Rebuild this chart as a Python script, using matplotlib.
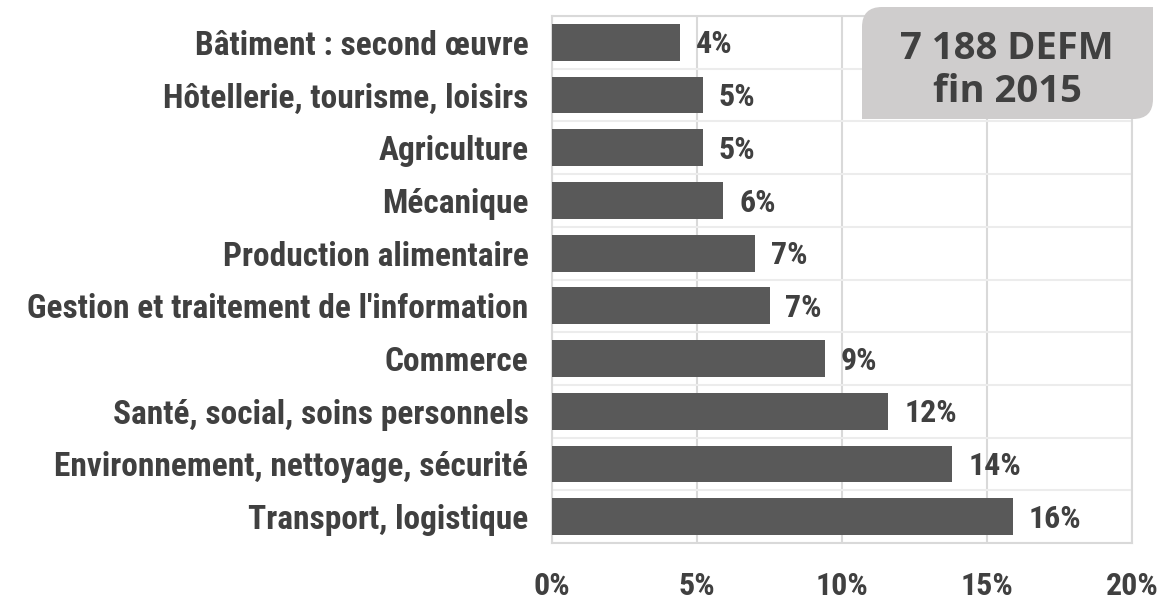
import matplotlib.pyplot as plt
from matplotlib.patches import PathPatch
from matplotlib.path import Path
from matplotlib.transforms import Affine2D
import numpy as np

categories = ["Transport, logistique", "Environnement, nettoyage, sécurité",
              "Santé, social, soins personnels", "Commerce",
              "Gestion et traitement de l'information", "Production alimentaire",
              "Mécanique", "Agriculture", "Hôtellerie, tourisme, loisirs",
              "Bâtiment : second œuvre"]
values = [15.9, 13.8, 11.6, 9.4, 7.5, 7.0, 5.9, 5.2, 5.2, 4.4]
labels = ["16%", "14%", "12%", "9%", "7%", "7%", "6%", "5%", "5%", "4%"]
xticks = [0, 5, 10, 15, 20]
box_lines = ["7 188 DEFM", "fin 2015"]

narrow = ['Roboto Condensed', 'Roboto', 'DejaVu Sans']
txt = '#404040'
grid = '#d9d9d9'
W, H = 1161, 599

fig = plt.figure(figsize=(W / 100, H / 100), dpi=100)
ax = fig.add_axes([552 / W, 1 - 543 / H, 580 / W, 527 / H])

y = np.arange(len(categories))
ax.barh(y, values, height=0.7, color='#595959', zorder=3)
for yi, v, lab in zip(y, values, labels):
    ax.text(v + 0.55, yi - 0.04, lab, va='center', ha='left', fontsize=23,
            fontweight='bold', color=txt, family=narrow, zorder=4)

ax.set_xlim(0, 20)
ax.set_ylim(-0.5, len(categories) - 0.5)
ax.set_xticks(xticks)
ax.set_xticklabels([f"{t}%" for t in xticks])
ax.set_yticks(y)
ax.set_yticklabels(categories)
ax.set_yticks(np.arange(-0.5, len(categories), 0.5), minor=True)
ax.tick_params(axis='both', which='both', length=0, labelsize=24, labelcolor=txt)
ax.tick_params(axis='x', labelsize=23, pad=20)
ax.tick_params(axis='y', pad=17)
for t in ax.get_xticklabels() + ax.get_yticklabels():
    t.set_family(narrow)
    t.set_fontweight('bold')
ax.grid(axis='x', color=grid, lw=1.5, zorder=0)
ax.grid(axis='y', which='minor', color='#ececec', lw=1.5, zorder=0)
for s in ax.spines.values():
    s.set_color(grid)
    s.set_linewidth(1.5)

# annotation box, top-left and bottom-right corners rounded (pixel coords, y down)
x0, x1, y0, y1, r = 862, 1153, 7, 119, 20
verts = [(x0, y1), (x0, y0 + r), (x0, y0), (x0 + r, y0), (x1, y0),
         (x1, y1 - r), (x1, y1), (x1 - r, y1), (x0, y1)]
codes = [Path.MOVETO, Path.LINETO, Path.CURVE3, Path.CURVE3, Path.LINETO,
         Path.LINETO, Path.CURVE3, Path.CURVE3, Path.CLOSEPOLY]
to_fig = Affine2D().scale(1, -1).translate(0, H).scale(1 / W, 1 / H) + fig.transFigure
box = PathPatch(Path(verts, codes), transform=to_fig, facecolor='#cfcdcd',
                edgecolor='none', zorder=5)
fig.patches.append(box)
for line, base in zip(box_lines, [59, 102]):
    fig.text(1007 / W, 1 - base / H, line, ha='center', va='baseline',
             fontsize=27.5, fontweight='bold', color=txt,
             family=['Open Sans', 'DejaVu Sans'], zorder=6)

plt.savefig('out.png', dpi=100)
